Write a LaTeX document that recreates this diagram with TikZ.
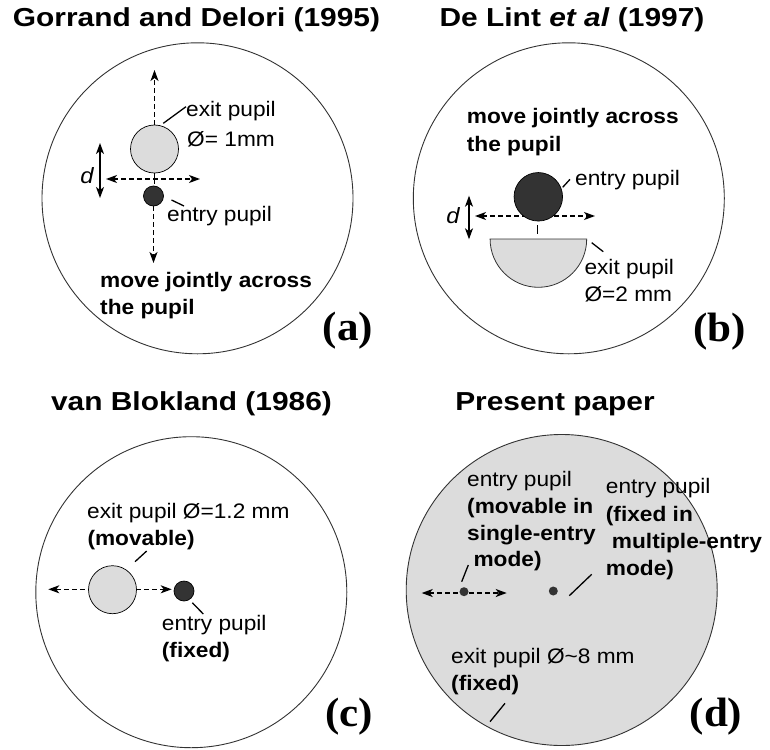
\documentclass[tikz,border=0pt]{standalone}
\usepackage{fontspec}
\setmainfont{Liberation Sans}
\newfontfamily\timesfont{Liberation Serif}
\usetikzlibrary{arrows.meta}
\definecolor{lightg}{RGB}{220,220,220}
\definecolor{darkg}{RGB}{51,51,51}
\begin{document}
\begin{tikzpicture}[x=1pt,y=-1pt,
  >={Stealth[length=11pt,width=8pt,inset=3pt]},
  ttl/.style={anchor=base, xscale=1.15, inner sep=0, font=\fontsize{26}{30}\selectfont\bfseries},
  txt/.style={anchor=base west, xscale=1.08, inner sep=0, font=\fontsize{21}{25}\selectfont},
  btxt/.style={anchor=base west, xscale=1.08, inner sep=0, font=\fontsize{21}{25}\selectfont\bfseries},
  dlbl/.style={anchor=base, xscale=1.08, inner sep=0, font=\fontsize{22}{25}\selectfont\itshape},
  lbl/.style={anchor=base, xscale=1.05, inner sep=0, font=\timesfont\bfseries\fontsize{41}{44}\selectfont},
  bigc/.style={circle, draw=darkg, line width=0.9pt, inner sep=0, minimum size=311pt},
  pupil/.style={circle, draw=black, line width=0.7pt, inner sep=0},
  dsh/.style={line width=1.4pt, dash pattern=on 5pt off 3pt},
  leader/.style={line width=1.3pt},
  darr/.style={line width=1.2pt, <->}]
\useasboundingbox (0,0) rectangle (770,749);

% ---------------- (a) ----------------
\node[bigc] (bigA) at (197.5,198.3) {};
\node[ttl] (titleA) at (196.5,27) {Gorrand and Delori (1995)};
\coordinate (upA) at (154.5,70);
\coordinate (downA) at (153.5,263);
\coordinate (hlA) at (106,179);
\coordinate (hrA) at (200,179);
\coordinate (tickA) at (154.5,184);
\draw[dsh,<->] (hlA) -- (hrA);
\node[pupil, fill=lightg, minimum size=48pt] (exitA) at (154.5,149) {};
\node[pupil, fill=darkg, minimum size=20pt] (entA) at (153.5,196) {};
\draw[dsh,->] (exitA.north) -- (upA);
\draw[dsh,->] (entA.south) -- (downA);
\draw[line width=1.8pt] (exitA.south) -- (tickA);
\coordinate (dtA) at (100,143);
\coordinate (dbA) at (100,198);
\draw[darr] (dtA) -- (dbA);
\node[dlbl] (dA) at (87,183) {d};
\coordinate (lA1) at (163.3,123.3);
\coordinate (lA2) at (186,106.7);
\draw[leader] (lA1) -- (lA2);
\node[txt] (tA1) at (186,117) {exit pupil};
\node[txt] (tA2) at (187,146) {Ø= 1mm};
\coordinate (lA3) at (171.5,200);
\coordinate (lA4) at (184,206);
\draw[leader] (lA3) -- (lA4);
\node[txt] (tA3) at (167,221) {entry pupil};
\node[btxt] (tA4) at (100,287) {move jointly across};
\node[btxt] (tA5) at (100,314) {the pupil};
\node[lbl] (labA) at (348,340) {(a)};

% ---------------- (b) ----------------
\node[bigc] (bigB) at (568.8,198.3) {};
\node[ttl] (titleB) at (572,27) {De Lint \textit{et al} (1997)};
\node[btxt] (tB1) at (466.7,124) {move jointly across};
\node[btxt] (tB2) at (466.7,151.7) {the pupil};
\coordinate (hlB) at (475,216);
\coordinate (hrB) at (595,216);
\draw[dsh,<->] (hlB) -- (hrB);
\node[pupil, fill=darkg, minimum size=48.5pt] (entB) at (538.3,196.8) {};
\coordinate (tkB1) at (537.3,225);
\coordinate (tkB2) at (537.3,234);
\draw[line width=1pt] (tkB1) -- (tkB2);
\draw[fill=lightg, draw=darkg, line width=0.8pt] (586.7,239) arc[start angle=0, end angle=180, radius=48.3] -- cycle;
\coordinate (dtB) at (469,195.7);
\coordinate (dbB) at (469,239.3);
\draw[darr] (dtB) -- (dbB);
\node[dlbl] (dB) at (453,223) {d};
\coordinate (lB1) at (562.7,187.3);
\coordinate (lB2) at (570,179.3);
\draw[leader] (lB1) -- (lB2);
\node[txt] (tB3) at (575,185) {entry pupil};
\coordinate (lB3) at (591.7,242.7);
\coordinate (lB4) at (603.3,251.7);
\draw[leader] (lB3) -- (lB4);
\node[txt] (tB4) at (584.3,274) {exit pupil};
\node[txt] (tB5) at (584.3,301.7) {Ø=2 mm};
\node[lbl] (labB) at (719.5,341) {(b)};

% ---------------- (c) ----------------
\node[bigc] (bigC) at (191.3,592.2) {};
\node[ttl] (titleC) at (191.5,410) {van Blokland (1986)};
\coordinate (hlC) at (48.3,589.3);
\coordinate (hrC) at (171.7,589.3);
\draw[dsh,<->] (hlC) -- (hrC);
\node[pupil, fill=lightg, minimum size=48pt] (exitC) at (112.5,589.7) {};
\node[pupil, fill=darkg, minimum size=20pt] (entC) at (184,591) {};
\coordinate (lC1) at (135,561.7);
\coordinate (lC2) at (146.7,551);
\draw[leader] (lC1) -- (lC2);
\coordinate (lC3) at (192.3,602.7);
\coordinate (lC4) at (203.3,614);
\draw[leader] (lC3) -- (lC4);
\node[txt] (tC1) at (87,518.3) {exit pupil Ø=1.2 mm};
\node[btxt] (tC2) at (87.3,545) {(movable)};
\node[txt] (tC3) at (161.7,630) {entry pupil};
\node[btxt] (tC4) at (161.7,657.7) {(fixed)};
\node[lbl] (labC) at (349,726) {(c)};

% ---------------- (d) ----------------
\node[bigc, fill=lightg] (bigD) at (561.7,590) {};
\node[ttl] (titleD) at (555,410) {Present paper};
\node[txt] (tD1) at (467,486) {entry pupil};
\node[btxt] (tD2) at (467,513.3) {(movable in};
\node[btxt] (tD3) at (467,540) {single-entry};
\node[btxt] (tD4) at (473.3,566.7) {mode)};
\coordinate (hlD) at (421.7,593);
\coordinate (hrD) at (506.7,593);
\draw[dsh,<->] (hlD) -- (hrD);
\node[circle, fill=darkg, inner sep=0, minimum size=9pt] (dotD1) at (464,591.7) {};
\node[circle, fill=darkg, inner sep=0, minimum size=9pt] (dotD2) at (553.3,591) {};
\coordinate (lD1) at (461.7,581.7);
\coordinate (lD2) at (468.3,565);
\draw[leader] (lD1) -- (lD2);
\coordinate (lD3) at (569.3,595.7);
\coordinate (lD4) at (591.7,574.3);
\draw[leader] (lD3) -- (lD4);
\node[txt] (tD5) at (605.7,493.3) {entry pupil};
\node[btxt] (tD6) at (605.7,521.7) {(fixed in};
\node[btxt] (tD7) at (611.7,548.3) {multiple-entry};
\node[btxt] (tD8) at (605.7,575) {mode)};
\node[txt] (tD9) at (451,663.3) {exit pupil Ø\textasciitilde8 mm};
\node[btxt] (tD10) at (451,690) {(fixed)};
\coordinate (lD5) at (490,721.7);
\coordinate (lD6) at (505,703.3);
\draw[leader] (lD5) -- (lD6);
\node[lbl] (labD) at (716,726) {(d)};
\end{tikzpicture}
\end{document}
